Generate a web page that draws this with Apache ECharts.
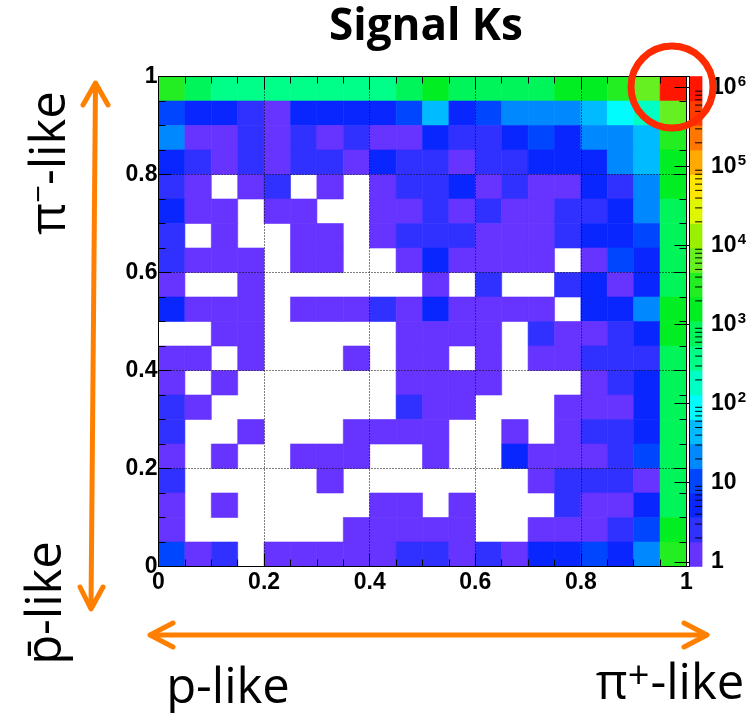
<!DOCTYPE html>
<html>
<head>
<meta charset="utf-8">
<script src="https://cdn.jsdelivr.net/npm/echarts@6.0.0/dist/echarts.min.js"></script>
<style>
html,body{margin:0;padding:0;background:#ffffff;}
#chart{width:749px;height:713px;}
</style>
</head>
<body>
<div id="chart"></div>
<script>
// ---------------- data ----------------
const chartTitle = 'Signal Ks';
const xTickLabels = ['0', '0.2', '0.4', '0.6', '0.8', '1'];
const yTickLabels = ['0', '0.2', '0.4', '0.6', '0.8', '1'];
const zTickLabels = ['1', '10', '10^2', '10^3', '10^4', '10^5', '10^6'];
const nBins = 20;

// entries per cell; each row lists x bins 0 -> 1 (20 bins of 0.05)
const rowY95 = [3000, 750, 380, 380, 380, 380, 380, 380, 380, 750, 1500, 750, 750, 750, 750, 1500, 1500, 3000, 6000, 1000000];
const rowY90 = [10, 6, 6, 2, 1, 6, 5, 6, 7, 10, 45, 6, 12, 22, 25, 20, 45, 90, 190, 6000];
const rowY85 = [22, 1, 1, 2, 1, 2, 1, 2, 1, 1, 6, 2, 2, 5, 10, 5, 22, 25, 45, 3000];
const rowY80 = [5, 2, 1, 2, 1, 2, 2, 1, 5, 2, 2, 1, 2, 2, 5, 5, 5, 22, 45, 1500];
const rowY75 = [2, 1, 0, 1, 2, 0, 1, 0, 1, 2, 2, 5, 1, 2, 1, 1, 5, 2, 22, 1500];
const rowY70 = [5, 1, 1, 0, 1, 1, 0, 0, 1, 1, 2, 1, 2, 1, 1, 2, 2, 5, 22, 750];
const rowY65 = [2, 0, 1, 0, 0, 1, 1, 0, 1, 2, 2, 2, 1, 1, 1, 2, 5, 5, 10, 750];
const rowY60 = [2, 1, 1, 1, 0, 1, 1, 0, 0, 1, 5, 1, 1, 1, 1, 0, 1, 10, 5, 750];
const rowY55 = [1, 0, 0, 1, 0, 0, 0, 0, 0, 0, 1, 0, 2, 0, 0, 2, 5, 1, 5, 750];
const rowY50 = [5, 1, 1, 1, 0, 1, 1, 1, 2, 1, 5, 1, 1, 1, 1, 0, 5, 5, 22, 1500];
const rowY45 = [0, 0, 1, 1, 0, 0, 0, 0, 0, 1, 1, 1, 1, 0, 2, 1, 1, 2, 5, 1500];
const rowY40 = [1, 1, 0, 1, 0, 0, 0, 1, 0, 1, 1, 0, 1, 0, 1, 1, 2, 2, 2, 750];
const rowY35 = [1, 0, 1, 0, 0, 0, 0, 0, 0, 1, 1, 1, 1, 0, 0, 0, 1, 2, 5, 750];
const rowY30 = [2, 1, 0, 0, 0, 0, 0, 0, 0, 2, 1, 1, 0, 0, 0, 1, 1, 1, 5, 750];
const rowY25 = [2, 0, 0, 1, 0, 0, 0, 1, 1, 1, 1, 0, 0, 1, 0, 1, 2, 2, 5, 750];
const rowY20 = [1, 0, 1, 0, 0, 1, 1, 1, 0, 0, 1, 0, 0, 5, 1, 1, 1, 2, 10, 750];
const rowY15 = [2, 0, 0, 0, 0, 0, 1, 0, 0, 0, 0, 0, 0, 0, 1, 2, 2, 2, 1, 750];
const rowY10 = [1, 0, 1, 0, 0, 0, 0, 0, 1, 1, 0, 1, 0, 0, 0, 2, 1, 1, 5, 750];
const rowY05 = [1, 0, 0, 0, 0, 0, 0, 1, 1, 1, 1, 1, 0, 0, 1, 1, 1, 2, 10, 1500];
const rowY00 = [10, 1, 2, 0, 1, 1, 1, 1, 1, 2, 2, 1, 2, 1, 5, 5, 10, 5, 22, 3000];

const rowsTopDown = [rowY95, rowY90, rowY85, rowY80, rowY75, rowY70, rowY65, rowY60, rowY55, rowY50,
                     rowY45, rowY40, rowY35, rowY30, rowY25, rowY20, rowY15, rowY10, rowY05, rowY00];

// colour scale (log10 of entries), 20 contour levels
const zLogMin = -0.06;
const zLogMax = 6.14;
const nLevels = 20;

// ---------------- styles ----------------
const palette = ['#6633ff', '#3030ff', '#0a26ff', '#0046ff', '#0088ff', '#00bbff', '#00fcfc', '#00ffc4',
                 '#00ff88', '#00f55a', '#00ee22', '#22ee22', '#66f022', '#99f000', '#e0f500', '#ffe600',
                 '#ffaa00', '#ff7700', '#ff3c00', '#ff1500'];
const AX_FONT = "'Liberation Sans',Arial,sans-serif";
const ORANGE = '#ff8000';
const LABEL_FONT = "'Open Sans',sans-serif";
const LABEL_SIZE = 49;

// ---------------- build ----------------
const binW = 1 / nBins;
const cellData = [];
rowsTopDown.forEach((row, r) => {
  row.forEach((v, c) => {
    if (v > 0) cellData.push([c, nBins - 1 - r, v]);
  });
});

function levelOf(v) {
  const k = Math.floor((Math.log10(v) - zLogMin) / (zLogMax - zLogMin) * nLevels);
  return Math.max(0, Math.min(nLevels - 1, k));
}

const levelData = palette.map((_, k) => [k]);
const zMinor = [];
for (let e = 0; e <= 6; e++) {
  for (let m = 2; m <= 9; m++) {
    const v = m * Math.pow(10, e);
    if (Math.log10(v) < zLogMax) zMinor.push([v]);
  }
}

function zLabel(v) {
  const lg = Math.log10(v);
  const e = Math.round(lg);
  if (Math.abs(lg - e) > 0.01) return '';
  const s = zTickLabels[e];
  if (!s) return '';
  const p = s.split('^');
  return p.length > 1 ? p[0] + '{sup|' + p[1] + '}' : s;
}

const frameAxisCommon = {
  type: 'value', min: 0, max: 1, interval: 0.2, z: 5,
  axisLine: { show: true, onZero: false, lineStyle: { color: '#000', width: 1 } },
  axisTick: { show: true, inside: true, length: 13, lineStyle: { color: '#000', width: 1 } },
  minorTick: { show: true, splitNumber: 4, length: 7, lineStyle: { color: '#000', width: 1 } },
  splitLine: { show: false },
  axisLabel: { show: false }
};

const chart = echarts.init(document.getElementById('chart'), null, { renderer: 'canvas' });

const option = {
  animation: false,
  backgroundColor: '#ffffff',
  title: {
    text: chartTitle, left: 324, top: 0,
    textStyle: { fontFamily: "'Open Sans',sans-serif", fontWeight: 'bold', fontSize: 44, color: '#000' }
  },
  grid: [
    { left: 158.5, top: 76.5, width: 528, height: 490 },
    { left: 689.5, top: 76.5, width: 19.5, height: 490 }
  ],
  xAxis: [
    Object.assign({}, frameAxisCommon, {
      gridIndex: 0, position: 'bottom',
      splitLine: { show: true, lineStyle: { color: '#000', type: [1, 2], width: 1 } },
      axisLabel: {
        show: true, margin: 5, formatter: v => xTickLabels[Math.round(v / 0.2)],
        fontFamily: AX_FONT, fontWeight: 'bold', fontSize: 23, color: '#000'
      }
    }),
    Object.assign({}, frameAxisCommon, { gridIndex: 0, position: 'top' }),
    { gridIndex: 1, type: 'value', min: 0, max: 1, show: false }
  ],
  yAxis: [
    Object.assign({}, frameAxisCommon, {
      gridIndex: 0, position: 'left',
      splitLine: { show: true, lineStyle: { color: '#000', type: [1, 2], width: 1 } },
      axisLabel: {
        show: true, margin: 1, formatter: v => yTickLabels[Math.round(v / 0.2)],
        fontFamily: AX_FONT, fontWeight: 'bold', fontSize: 23, color: '#000'
      }
    }),
    Object.assign({}, frameAxisCommon, { gridIndex: 0, position: 'right' }),
    {
      gridIndex: 1, type: 'log', logBase: 10, position: 'right', z: 5,
      min: Math.pow(10, zLogMin), max: Math.pow(10, zLogMax),
      axisLine: { show: true, lineStyle: { color: '#000', width: 1 } },
      axisTick: { show: true, inside: true, length: 15, lineStyle: { color: '#000', width: 1 } },
      splitLine: { show: false },
      axisLabel: {
        show: true, margin: 9, formatter: zLabel,
        fontFamily: AX_FONT, fontWeight: 'bold', fontSize: 23, color: '#000',
        rich: { sup: { fontFamily: AX_FONT, fontWeight: 'bold', fontSize: 15, color: '#000', verticalAlign: 'top', padding: [0, 0, 12, 1] } }
      }
    }
  ],
  series: [
    {
      type: 'custom', name: 'cells', xAxisIndex: 0, yAxisIndex: 0, z: 2,
      data: cellData,
      renderItem: function (params, api) {
        const c = api.value(0), r = api.value(1), v = api.value(2);
        const p0 = api.coord([c * binW, (r + 1) * binW]);
        const p1 = api.coord([(c + 1) * binW, r * binW]);
        const col = palette[levelOf(v)];
        return {
          type: 'rect',
          shape: { x: p0[0], y: p0[1], width: p1[0] - p0[0], height: p1[1] - p0[1] },
          style: { fill: col, stroke: col, lineWidth: 0.6 }
        };
      }
    },
    {
      type: 'custom', name: 'palette', xAxisIndex: 2, yAxisIndex: 2, z: 2,
      data: levelData,
      renderItem: function (params, api) {
        const k = api.value(0);
        const step = (zLogMax - zLogMin) / nLevels;
        const lo = Math.pow(10, zLogMin + k * step);
        const hi = Math.pow(10, zLogMin + (k + 1) * step);
        const p0 = api.coord([0, hi]);
        const p1 = api.coord([1, lo]);
        return {
          type: 'rect',
          shape: { x: p0[0], y: p0[1], width: p1[0] - p0[0], height: p1[1] - p0[1] },
          style: { fill: palette[k], stroke: palette[k], lineWidth: 0.6 }
        };
      }
    },
    {
      type: 'custom', name: 'zMinorTicks', xAxisIndex: 2, yAxisIndex: 2, z: 6,
      data: zMinor,
      renderItem: function (params, api) {
        const p = api.coord([1, api.value(0)]);
        return {
          type: 'line',
          shape: { x1: p[0], y1: p[1], x2: p[0] - 7, y2: p[1] },
          style: { stroke: '#000', lineWidth: 1 }
        };
      }
    }
  ],
  graphic: [
    // vertical double arrow
    { type: 'polyline', shape: { points: [[95.5, 84], [91, 608]] }, style: { stroke: ORANGE, lineWidth: 5, lineCap: 'round', fill: null } },
    { type: 'polyline', shape: { points: [[83, 105], [95.5, 83], [108, 105]] }, style: { stroke: ORANGE, lineWidth: 5, lineCap: 'round', lineJoin: 'round', fill: null } },
    { type: 'polyline', shape: { points: [[80, 587], [91, 609], [103, 587]] }, style: { stroke: ORANGE, lineWidth: 5, lineCap: 'round', lineJoin: 'round', fill: null } },
    // horizontal double arrow
    { type: 'polyline', shape: { points: [[151, 635], [706, 635]] }, style: { stroke: ORANGE, lineWidth: 5, lineCap: 'round', fill: null } },
    { type: 'polyline', shape: { points: [[173, 623], [150, 635], [173, 647]] }, style: { stroke: ORANGE, lineWidth: 5, lineCap: 'round', lineJoin: 'round', fill: null } },
    { type: 'polyline', shape: { points: [[684, 623], [707, 635], [684, 647]] }, style: { stroke: ORANGE, lineWidth: 5, lineCap: 'round', lineJoin: 'round', fill: null } },
    // red circle
    { type: 'circle', z: 100, shape: { cx: 672, cy: 87, r: 41 }, style: { stroke: '#ff2a00', lineWidth: 7, fill: null } },
    // axis meaning labels
    {
      type: 'text', x: 51, y: 163, rotation: Math.PI / 2,
      style: {
        text: 'π{sup|−}-like', align: 'center', verticalAlign: 'middle',
        fontFamily: LABEL_FONT, fontSize: LABEL_SIZE, fill: '#000',
        rich: { sup: { fontFamily: LABEL_FONT, fontSize: 31, fill: '#000', verticalAlign: 'top', padding: [0, 0, 22, 0] } }
      }
    },
    {
      type: 'text', x: 47, y: 603, rotation: Math.PI / 2,
      style: {
        text: 'p̄-like', align: 'center', verticalAlign: 'middle',
        fontFamily: LABEL_FONT, fontSize: LABEL_SIZE, fill: '#000'
      }
    },
    {
      type: 'text', x: 228, y: 689,
      style: {
        text: 'p-like', align: 'center', verticalAlign: 'middle',
        fontFamily: LABEL_FONT, fontSize: LABEL_SIZE, fill: '#000'
      }
    },
    {
      type: 'text', x: 670, y: 685,
      style: {
        text: 'π{sup|+}-like', align: 'center', verticalAlign: 'middle',
        fontFamily: LABEL_FONT, fontSize: LABEL_SIZE, fill: '#000',
        rich: { sup: { fontFamily: LABEL_FONT, fontSize: 38, fill: '#000', verticalAlign: 'top', padding: [0, 1, 16, 0] } }
      }
    }
  ]
};
chart.setOption(option);
</script>
</body>
</html>
